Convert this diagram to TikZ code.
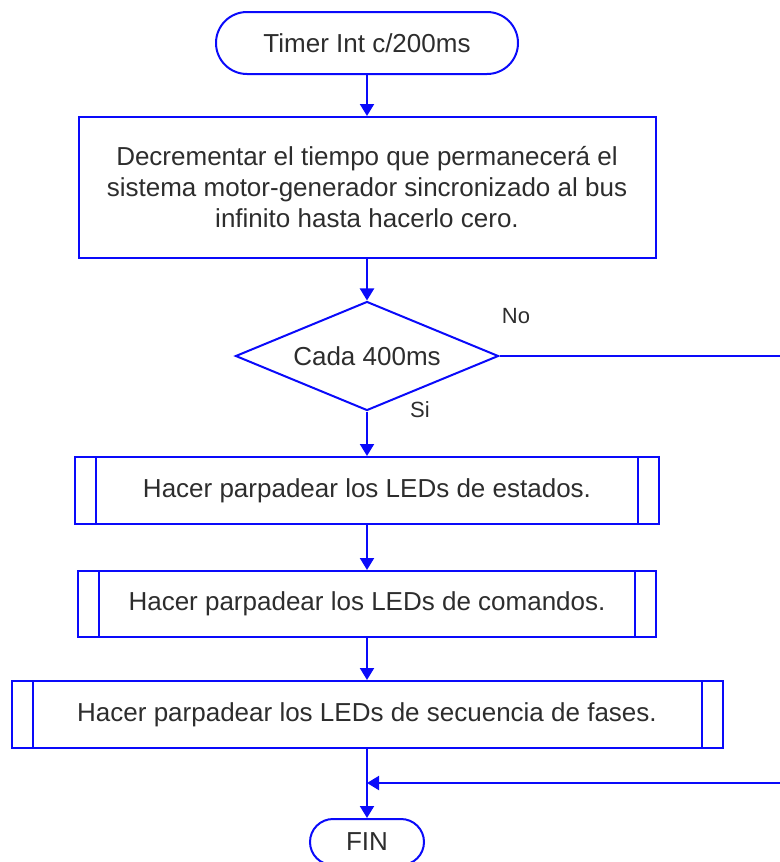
\documentclass[tikz,border=0pt]{standalone}
\usepackage{fontspec}
\setmainfont{Liberation Sans}
\usetikzlibrary{shapes.geometric,arrows.meta}
\definecolor{fblue}{RGB}{10,10,250}
\definecolor{ftext}{RGB}{45,45,45}
\begin{document}
\begin{tikzpicture}[x=0.5pt,y=-0.5pt,
  flow/.style={draw=fblue, line width=1pt},
  txt/.style={text=ftext, font=\fontsize{13}{15.5}\selectfont, align=center},
  term/.style={flow, txt, inner sep=0pt},
  proc/.style={flow, txt, inner sep=0pt},
  decision/.style={flow, txt, diamond, inner sep=0pt, aspect=2.41},
  arr/.style={draw=fblue, line width=1pt, -{Triangle[length=6pt,width=7pt]}},
  lbl/.style={text=ftext, font=\fontsize{11}{13}\selectfont}]
\useasboundingbox (0,0) rectangle (780,862);

% blocks
\node[term, minimum width=151pt, minimum height=31pt, rounded corners=15.5pt] (start) at (367,43) {Timer Int c/200ms};
\node[proc, minimum width=288.5pt, minimum height=70.5pt] (p1) at (367,187.5)
  {Decrementar el tiempo que permanecerá el\\sistema motor-generador sincronizado al bus\\infinito hasta hacerlo cero.};
\node[decision, minimum width=131.5pt, minimum height=54.5pt] (d) at (367,356) {Cada 400ms};
\node[proc, minimum width=292pt, minimum height=33.5pt] (b2) at (367,490.5) {Hacer parpadear los LEDs de estados.};
\node[proc, minimum width=289pt, minimum height=33pt] (b3) at (367,604) {Hacer parpadear los LEDs de comandos.};
\node[proc, minimum width=355.5pt, minimum height=33.5pt] (b4) at (367,714.5) {Hacer parpadear los LEDs de secuencia de fases.};
\node[term, minimum width=57pt, minimum height=23pt, rounded corners=11.5pt] (fin) at (367,842) {FIN};

% side bars of the predefined-process boxes
\foreach \n in {b2,b3,b4}
  \draw[flow] ([xshift=11pt]\n.north west) -- ([xshift=11pt]\n.south west)
              ([xshift=-11pt]\n.north east) -- ([xshift=-11pt]\n.south east);

% branch labels
\node[lbl] (no) at (516,316) {No};
\node[lbl] (si) at (420,410) {Si};

% connectors
\coordinate (rb) at (782,783);
\coordinate (j) at (367,783);
\draw[arr] (start) -- (p1);
\draw[arr] (p1) -- (d);
\draw[arr] (d) -- (b2);
\draw[arr] (b2) -- (b3);
\draw[arr] (b3) -- (b4);
\draw[arr] (b4) -- (fin);
\draw[arr] (d.east) -- (d.east -| rb) -- (rb) -- (j);
\end{tikzpicture}
\end{document}
